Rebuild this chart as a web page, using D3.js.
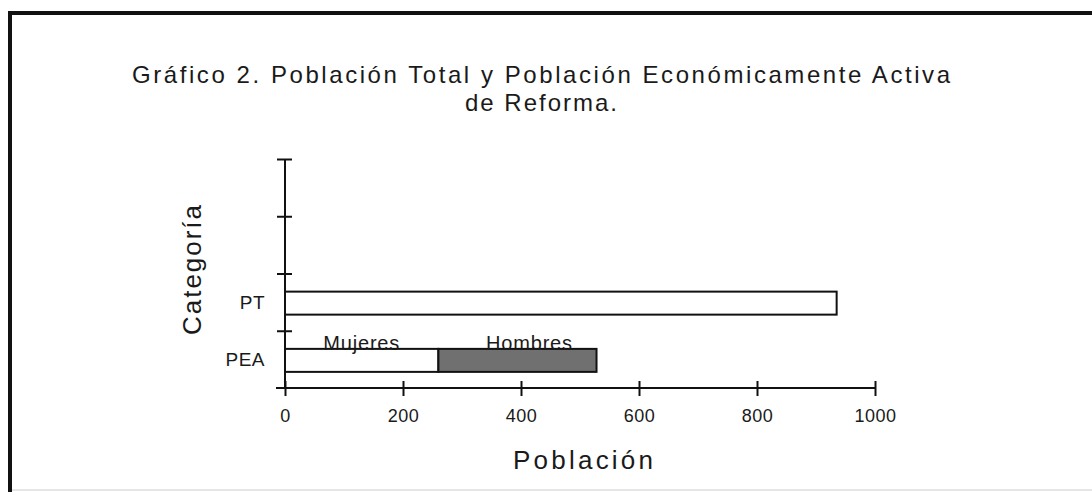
<!DOCTYPE html>
<html>
<head>
<meta charset="utf-8">
<script src="https://cdn.jsdelivr.net/npm/d3@7"></script>
<style>
  body { margin: 0; background: #fff; }
  text { font-family: "Liberation Sans", Arial, sans-serif; fill: #1a1a1a; }
</style>
</head>
<body>
<div id="chart"></div>
<script>
// data
const categories = ["PEA", "PT"]          // bottom to top
const ptValue = 935
const segmentNames = ["Mujeres", "Hombres"]
const peaValues = [260, 268]
const xTicks = [0, 200, 400, 600, 800, 1000]
const slotCount = 4                        // two empty slots above PT

const W = 1092, H = 500

const svg = d3.select("#chart")
    .append("svg")
    .attr("width", W)
    .attr("height", H)

// frame
svg.append("line").attr("x1", 8).attr("x2", W).attr("y1", 13).attr("y2", 13)
    .attr("stroke", "#111").attr("stroke-width", 4)
svg.append("line").attr("x1", 10).attr("x2", 10).attr("y1", 11).attr("y2", 492)
    .attr("stroke", "#111").attr("stroke-width", 4)
svg.append("line").attr("x1", 12).attr("x2", W).attr("y1", 490).attr("y2", 490)
    .attr("stroke", "#ccc").attr("stroke-width", 1)

// title
svg.append("text")
    .attr("x", 541).attr("y", 83)
    .attr("text-anchor", "middle")
    .attr("textLength", 818).attr("lengthAdjust", "spacing")
    .style("font-size", "24px")
    .text("Gráfico 2. Población Total y Población Económicamente Activa")
svg.append("text")
    .attr("x", 541).attr("y", 111)
    .attr("text-anchor", "middle")
    .attr("textLength", 152).attr("lengthAdjust", "spacing")
    .style("font-size", "24px")
    .text("de Reforma.")

const xScale = d3.scaleLinear().domain([0, 1000]).range([285, 875])
const yScale = d3.scaleLinear().domain([0, slotCount]).range([388, 159])

// x axis with crossing ticks
const xAxis = svg.append("g")
    .attr("transform", `translate(0, ${yScale(0)})`)
    .call(d3.axisBottom(xScale).tickValues(xTicks).tickFormat(d3.format("d")).tickSize(8).tickPadding(13))
xAxis.select(".domain").attr("d", `M${xScale(0) - 9},0H${xScale(1000)}`)
    .attr("stroke", "#111").attr("stroke-width", 2)
xAxis.selectAll(".tick line").attr("y1", -7).attr("stroke", "#111").attr("stroke-width", 2)
xAxis.selectAll(".tick text")
    .style("font-size", "18px")
    .style("letter-spacing", "0.5px")
    .style("font-family", "'Liberation Sans', Arial, sans-serif")
    .attr("fill", "#1a1a1a")

// y axis: ticks at slot borders, labels at slot centres
const yAxis = svg.append("g")
    .attr("transform", `translate(${xScale(0)}, 0)`)
    .call(d3.axisLeft(yScale).tickValues(d3.range(1, slotCount + 1)).tickSize(8).tickFormat(""))
yAxis.select(".domain").attr("d", `M0,${yScale(slotCount)}V${yScale(0)}`)
    .attr("stroke", "#111").attr("stroke-width", 2)
yAxis.selectAll(".tick line").attr("x1", 7).attr("stroke", "#111").attr("stroke-width", 2)

svg.selectAll(".cat-label")
    .data(categories)
    .join("text")
    .attr("class", "cat-label")
    .attr("x", xScale(0) - 20)
    .attr("y", (d, i) => yScale(i + 0.5))
    .attr("dy", "0.36em")
    .attr("text-anchor", "end")
    .style("font-size", "19px")
    .style("letter-spacing", "0.5px")
    .text(d => d)

const barH = 23
const barY = i => yScale(i + 0.5) - barH / 2 + 1

// PT bar
svg.append("rect")
    .attr("x", xScale(0))
    .attr("y", barY(1))
    .attr("width", xScale(ptValue) - xScale(0))
    .attr("height", barH)
    .attr("fill", "#fff")
    .attr("stroke", "#111")
    .attr("stroke-width", 2)

// PEA stacked bar
const stacked = peaValues.map((v, i) => ({
    name: segmentNames[i],
    x0: d3.sum(peaValues.slice(0, i)),
    x1: d3.sum(peaValues.slice(0, i + 1))
}))
const segFill = ["#fff", "#707070"]

svg.selectAll(".pea-seg")
    .data(stacked)
    .join("rect")
    .attr("class", "pea-seg")
    .attr("x", d => xScale(d.x0))
    .attr("y", barY(0))
    .attr("width", d => xScale(d.x1) - xScale(d.x0))
    .attr("height", barH)
    .attr("fill", (d, i) => segFill[i])
    .attr("stroke", "#111")
    .attr("stroke-width", 2)

svg.selectAll(".pea-label")
    .data(stacked)
    .join("text")
    .attr("class", "pea-label")
    .attr("x", (d, i) => (xScale(d.x0) + xScale(d.x1)) / 2 + (i === 1 ? 12 : 0))
    .attr("y", barY(0) + 1)
    .attr("text-anchor", "middle")
    .style("font-size", "20px")
    .style("letter-spacing", "0.8px")
    .text(d => d.name)

// axis titles
svg.append("text")
    .attr("x", 583).attr("y", 469)
    .attr("text-anchor", "middle")
    .attr("textLength", 140).attr("lengthAdjust", "spacing")
    .style("font-size", "26px")
    .text("Población")

svg.append("text")
    .attr("transform", "translate(201, 270) rotate(-90)")
    .attr("text-anchor", "middle")
    .attr("textLength", 130).attr("lengthAdjust", "spacing")
    .style("font-size", "26px")
    .text("Categoría")
</script>
</body>
</html>
